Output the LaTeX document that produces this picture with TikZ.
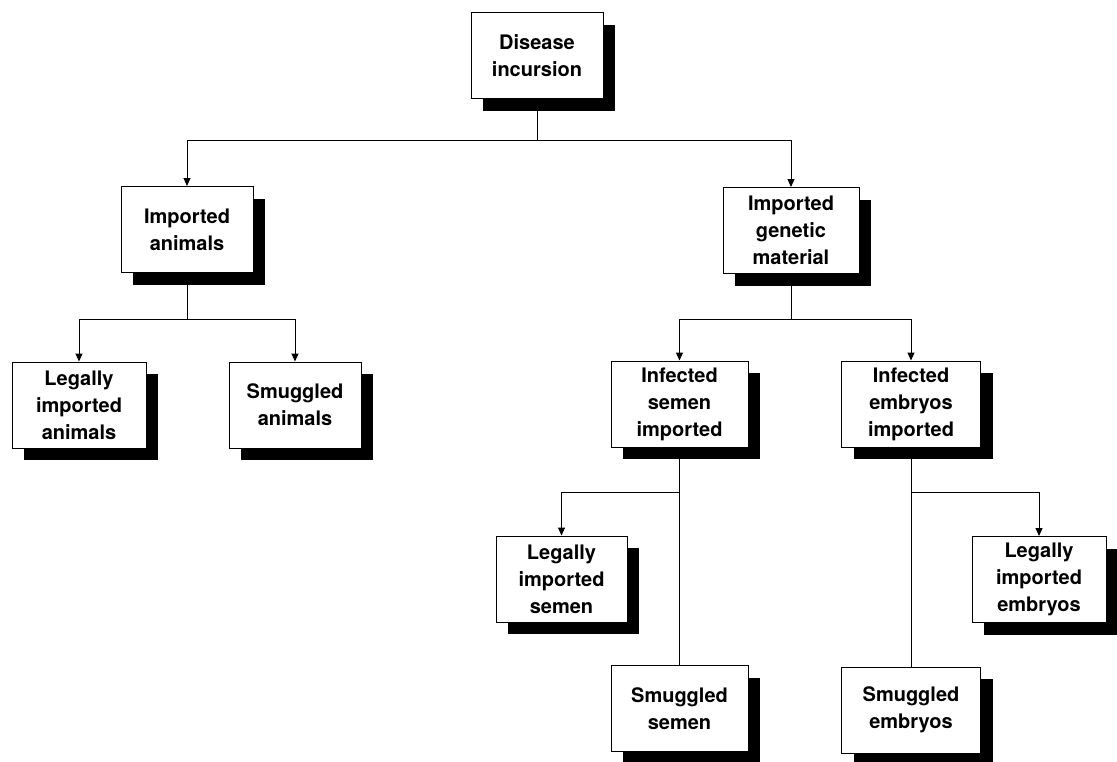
\documentclass[tikz,border=0pt]{standalone}
\usepackage{fontspec}
\setmainfont{TeX Gyre Heros}
\usetikzlibrary{arrows.meta,shadows}

\begin{document}
\begin{tikzpicture}[
  x=1pt, y=-1pt,
  box/.style={draw=black, fill=white, line width=1pt, align=center,
    inner sep=2pt, minimum height=86pt,
    font=\fontsize{20}{27}\selectfont\bfseries,
    drop shadow={shadow xshift=12pt, shadow yshift=-12pt, fill=black, opacity=1}},
  link/.style={line width=1pt, draw=black},
  arr/.style={link, -{Triangle[length=8pt,width=7pt]}}
]
\useasboundingbox (0,0) rectangle (1117,761);

% boxes
\node[box, minimum width=132pt] (dis) at (537,55.5) {Disease\\incursion};
\node[box, minimum width=132pt] (ia)  at (187,229.5) {Imported\\animals};
\node[box, minimum width=136pt] (igm) at (791,230.5) {Imported\\genetic\\material};
\node[box, minimum width=134pt] (lia) at (79,405) {Legally\\imported\\animals};
\node[box, minimum width=132pt] (sa)  at (295,405) {Smuggled\\animals};
\node[box, minimum width=137pt] (is)  at (679.5,404) {Infected\\semen\\imported};
\node[box, minimum width=139pt] (ie)  at (911,404) {Infected\\embryos\\imported};
\node[box, minimum width=131pt] (lis) at (561.5,579) {Legally\\imported\\semen};
\node[box, minimum width=134pt] (lie) at (1039,579.5) {Legally\\imported\\embryos};
\node[box, minimum width=137pt] (ss)  at (679.5,708.5) {Smuggled\\semen};
\node[box, minimum width=139pt] (se)  at (911,710) {Smuggled\\embryos};

% branch points
\coordinate (b1) at (537,140);
\coordinate (b2) at (187,319);
\coordinate (b3) at (791,319);
\coordinate (b4) at (679.5,492);
\coordinate (b5) at (911,492);

% connectors
\draw[link] (dis.south) -- (b1);
\draw[arr] (b1) -| (ia.north);
\draw[arr] (b1) -| (igm.north);

\draw[link] (ia.south) -- (b2);
\draw[arr] (b2) -| (lia.north);
\draw[arr] (b2) -| (sa.north);

\draw[link] (igm.south) -- (b3);
\draw[arr] (b3) -| (is.north);
\draw[arr] (b3) -| (ie.north);

\draw[link] (is.south) -- (ss.north);
\draw[arr] (b4) -| (lis.north);

\draw[link] (ie.south) -- (se.north);
\draw[arr] (b5) -| (lie.north);
\end{tikzpicture}
\end{document}
